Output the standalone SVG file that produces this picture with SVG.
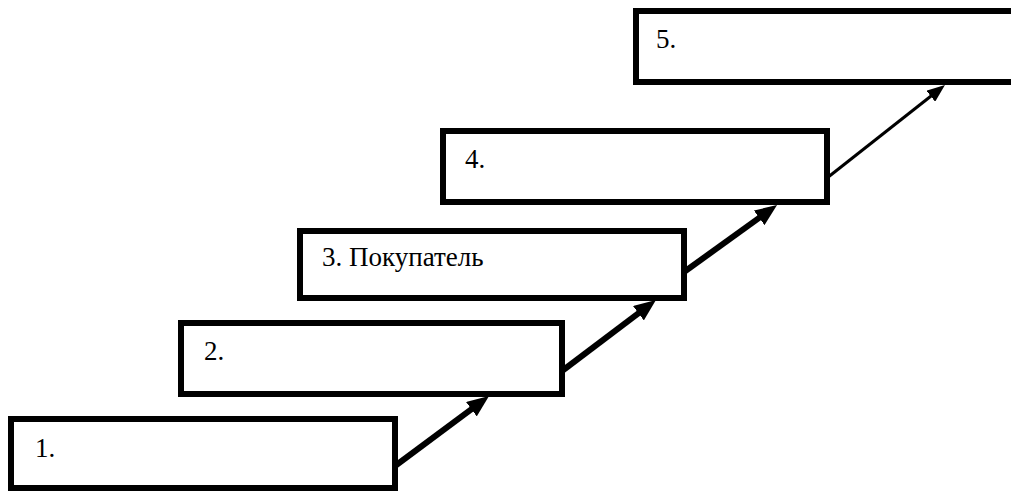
<svg xmlns="http://www.w3.org/2000/svg" width="1011" height="491" viewBox="0 0 1011 491">
  <style>
    .box { fill: #ffffff; stroke: #000000; stroke-width: 6; }
    .lbl { font-family: 'Liberation Serif', 'DejaVu Serif', serif; font-size: 27px; fill: #000000; }
    .conn { fill: none; stroke: #000000; stroke-width: 6; }
    .conn.thin { stroke-width: 3; }
  </style>
  <defs>
    <marker id="ah" markerUnits="userSpaceOnUse" viewBox="0 0 22 18" markerWidth="22" markerHeight="18" refX="9" refY="9" orient="auto">
      <path d="M0,0 L22,9 L0,18 z" fill="#000000"/>
    </marker>
    <marker id="ahs" markerUnits="userSpaceOnUse" viewBox="0 0 18 14" markerWidth="18" markerHeight="14" refX="8" refY="7" orient="auto">
      <path d="M0,0 L18,7 L0,14 z" fill="#000000"/>
    </marker>
  </defs>
  <rect width="1011" height="491" fill="#ffffff"/>
  <g id="connectors">
    <path class="conn" d="M395,466 L478.6,403.8" marker-end="url(#ah)"/>
    <path class="conn" d="M562,371 L645.6,307.8" marker-end="url(#ah)"/>
    <path class="conn" d="M684,272 L766.5,212.6" marker-end="url(#ah)"/>
    <path class="conn thin" d="M827,178 L937.1,91.3" marker-end="url(#ahs)"/>
  </g>
  <g id="node1">
    <rect class="box" x="11" y="419" width="384" height="69"/>
    <text class="lbl" font-family="Liberation Serif, serif" x="35" y="457">1.</text>
  </g>
  <g id="node2">
    <rect class="box" x="181" y="323" width="381" height="71"/>
    <text class="lbl" font-family="Liberation Serif, serif" x="204" y="360">2.</text>
  </g>
  <g id="node3">
    <rect class="box" x="300" y="231" width="384" height="67"/>
    <text class="lbl" font-family="Liberation Serif, serif" x="322" y="266">3. Покупатель</text>
  </g>
  <g id="node4">
    <rect class="box" x="443" y="131" width="384" height="71"/>
    <text class="lbl" font-family="Liberation Serif, serif" x="465" y="168">4.</text>
  </g>
  <g id="node5">
    <rect class="box" x="636" y="11" width="384" height="71"/>
    <text class="lbl" font-family="Liberation Serif, serif" x="656" y="48">5.</text>
  </g>
</svg>
